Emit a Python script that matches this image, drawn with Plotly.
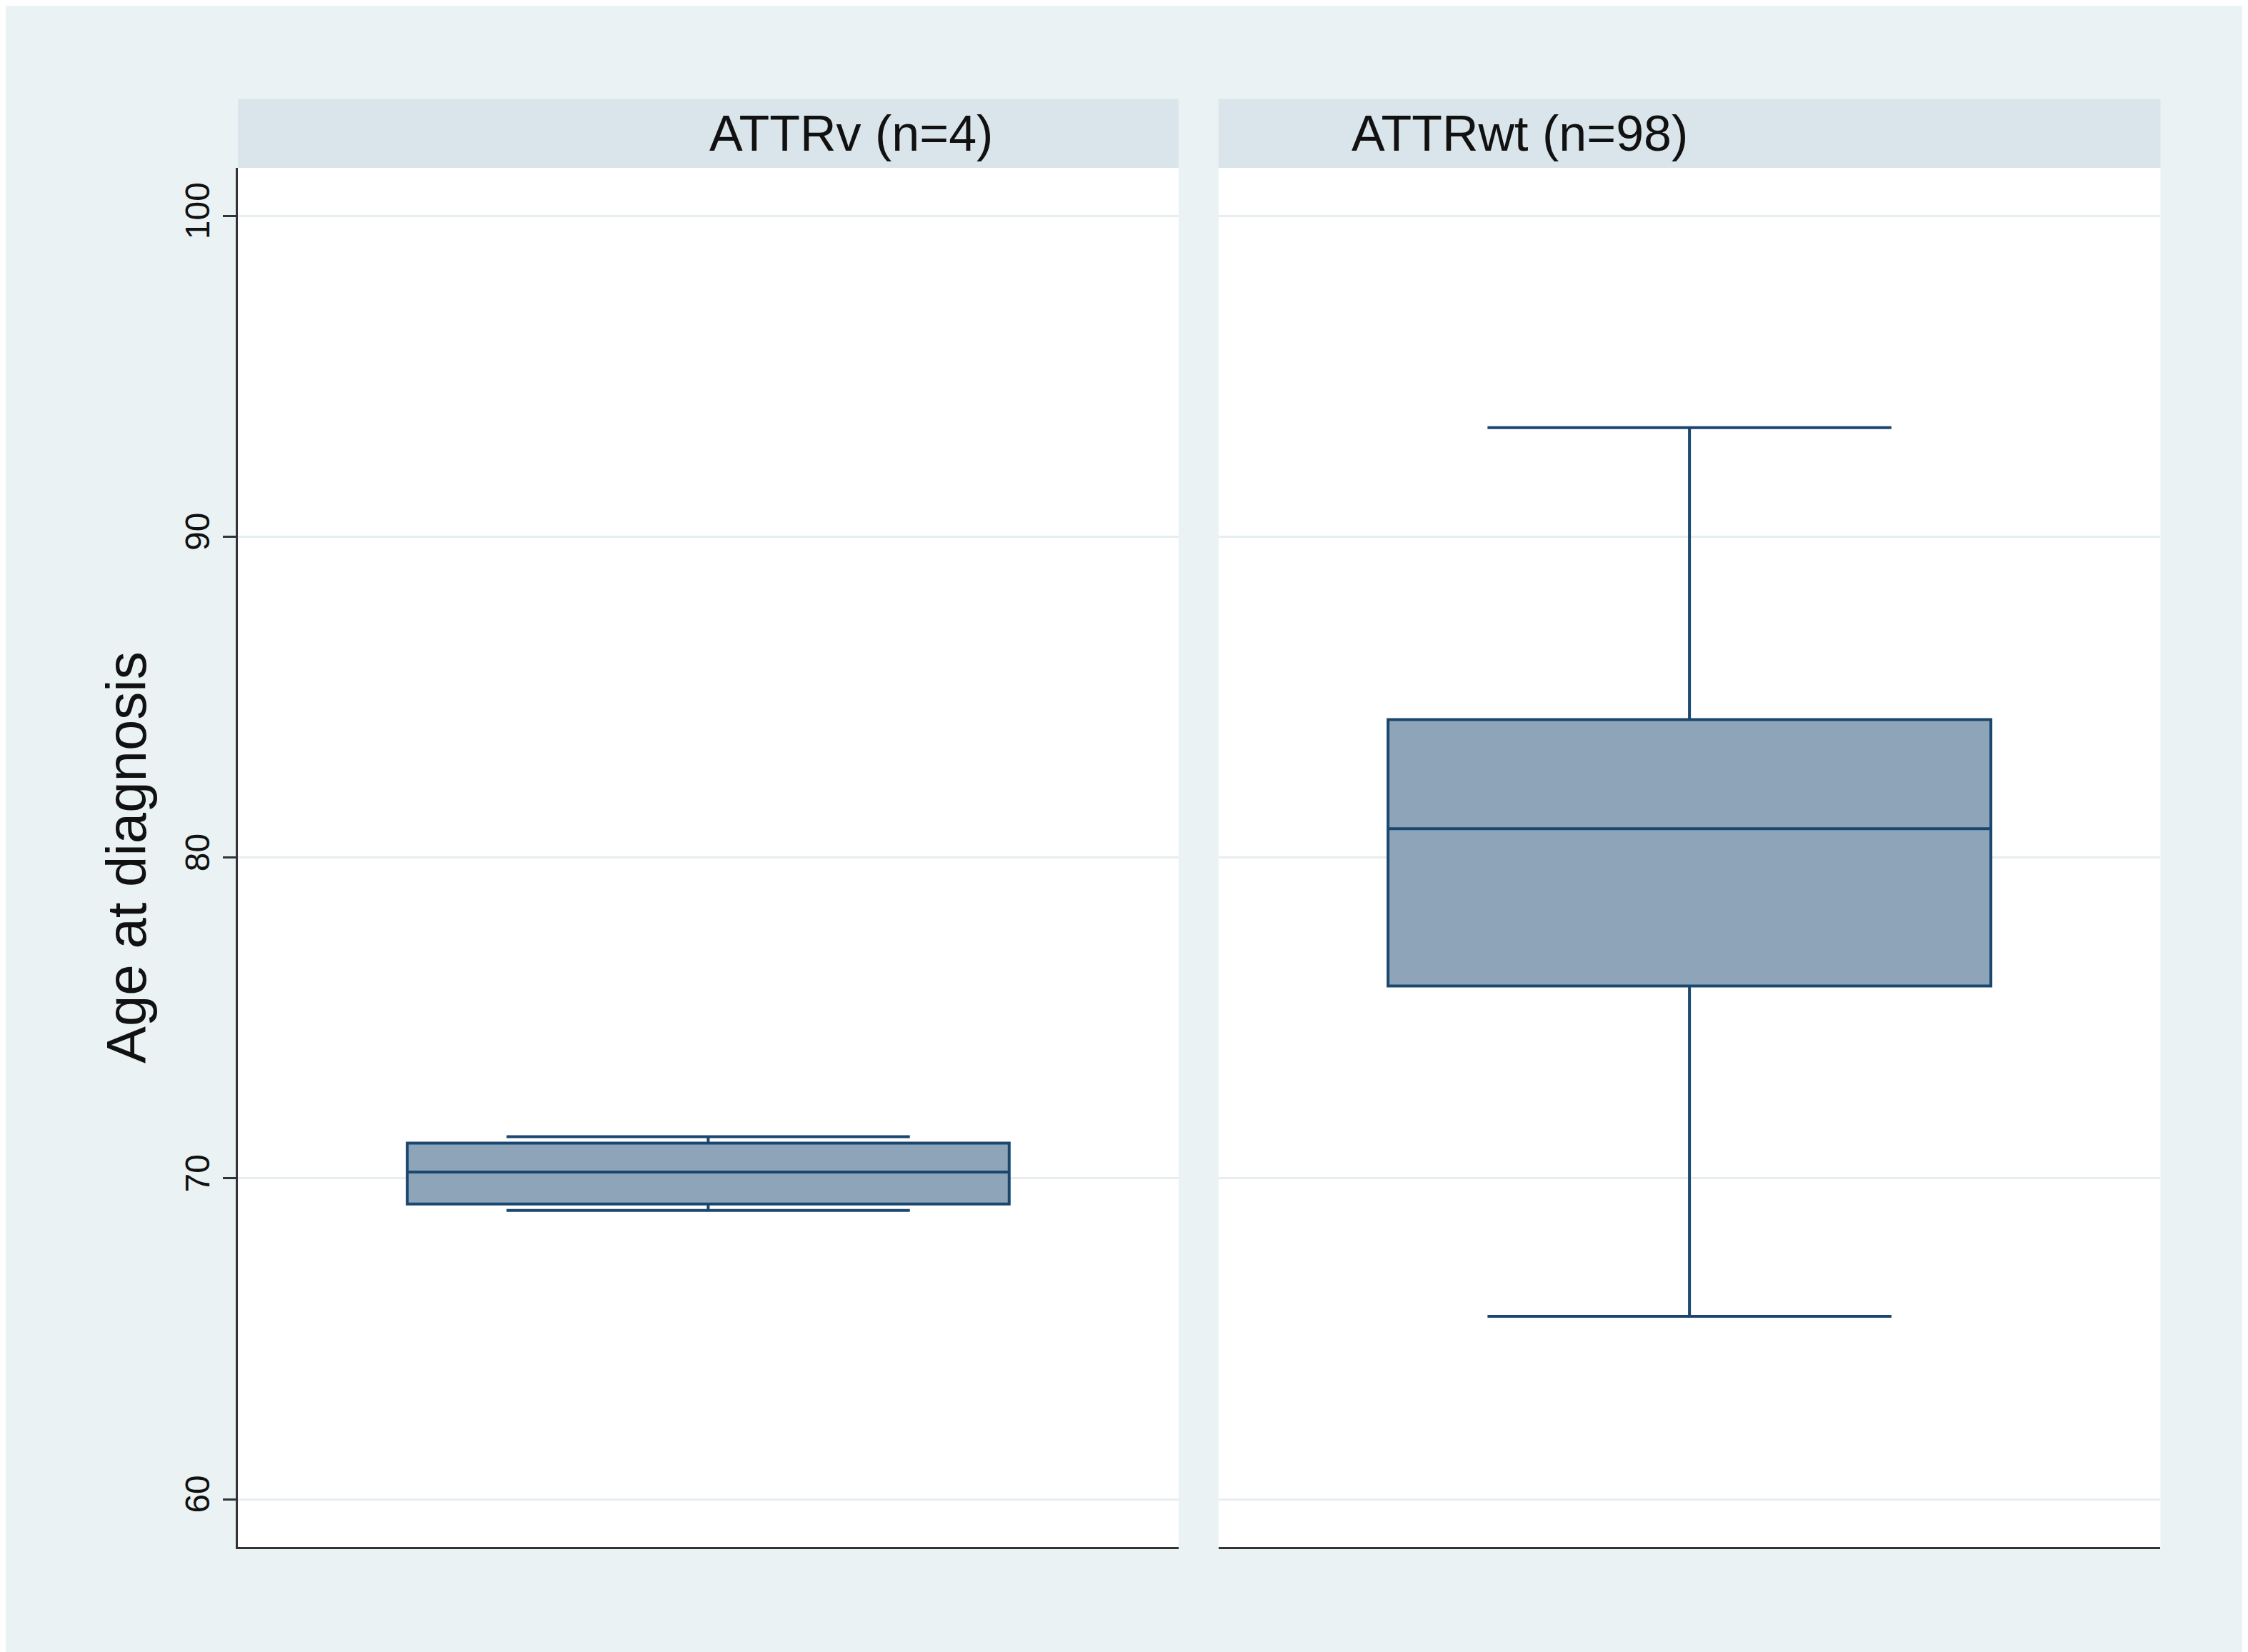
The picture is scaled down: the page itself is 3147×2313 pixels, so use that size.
import plotly.graph_objects as go
from plotly.subplots import make_subplots

# ---- data ----
groups = ["ATTRv (n=4)", "ATTRwt (n=98)"]
q1 = [69.2, 76.0]
median = [70.2, 80.9]
q3 = [71.1, 84.3]
lower_whisker = [69.0, 65.7]
upper_whisker = [71.3, 93.4]
y_ticks = [60, 70, 80, 90, 100]

W, H = 3147, 2313
LINE = "#1a476f"
FILL = "#8ea5b9"

fig = make_subplots(rows=1, cols=2, shared_yaxes=False)

x_domains = [(0.1033, 0.5217), (0.5395, 0.9585)]
y_domain = (0.0668, 0.9019)

for i, name in enumerate(groups):
    fig.add_trace(go.Box(
        x=[name], q1=[q1[i]], median=[median[i]], q3=[q3[i]],
        lowerfence=[lower_whisker[i]], upperfence=[upper_whisker[i]],
        fillcolor=FILL, line=dict(color=LINE, width=4),
        whiskerwidth=0.67, boxpoints=False, showlegend=False, hoverinfo="y",
    ), row=1, col=i + 1)

    # strip header
    x0, x1 = x_domains[i]
    fig.add_shape(type="rect", xref="paper", yref="paper", x0=x0, x1=x1,
                  y0=y_domain[1], y1=0.9436, fillcolor="#d9e5eb", line_width=0, layer="below")
    fig.add_annotation(text=name, xref="paper", yref="paper", x=(x0 + x1) / 2,
                       y=(y_domain[1] + 0.9436) / 2, yanchor="middle", showarrow=False,
                       font=dict(size=70, color="#111"))

axis_common = dict(showgrid=False, showline=True, linecolor="#333", linewidth=3,
                   showticklabels=False, ticks="", range=[-0.5, 0.5], zeroline=False)
fig.update_xaxes(**axis_common)
fig.update_xaxes(domain=x_domains[0], row=1, col=1)
fig.update_xaxes(domain=x_domains[1], row=1, col=2)

fig.update_yaxes(range=[58.5, 101.5], domain=y_domain, tickvals=y_ticks,
                 gridcolor="#e6eef1", gridwidth=3, zeroline=False)
fig.update_yaxes(showline=True, linecolor="#333", linewidth=3, ticks="outside",
                 ticklen=18, tickwidth=3, tickcolor="#333", tickangle=-90,
                 tickfont=dict(size=48, color="#111"),
                 title=dict(text="Age at diagnosis", font=dict(size=78, color="#111"), standoff=20),
                 row=1, col=1)
fig.update_yaxes(showticklabels=False, ticks="", showline=False, row=1, col=2)

fig.update_layout(
    width=W, height=H, margin=dict(l=0, r=0, t=0, b=0),
    paper_bgcolor="#eaf2f3", plot_bgcolor="white", boxgap=0.36, boxgroupgap=0,
    font=dict(family="Liberation Sans, Arial, sans-serif"),
)

fig.write_html("out.html")
